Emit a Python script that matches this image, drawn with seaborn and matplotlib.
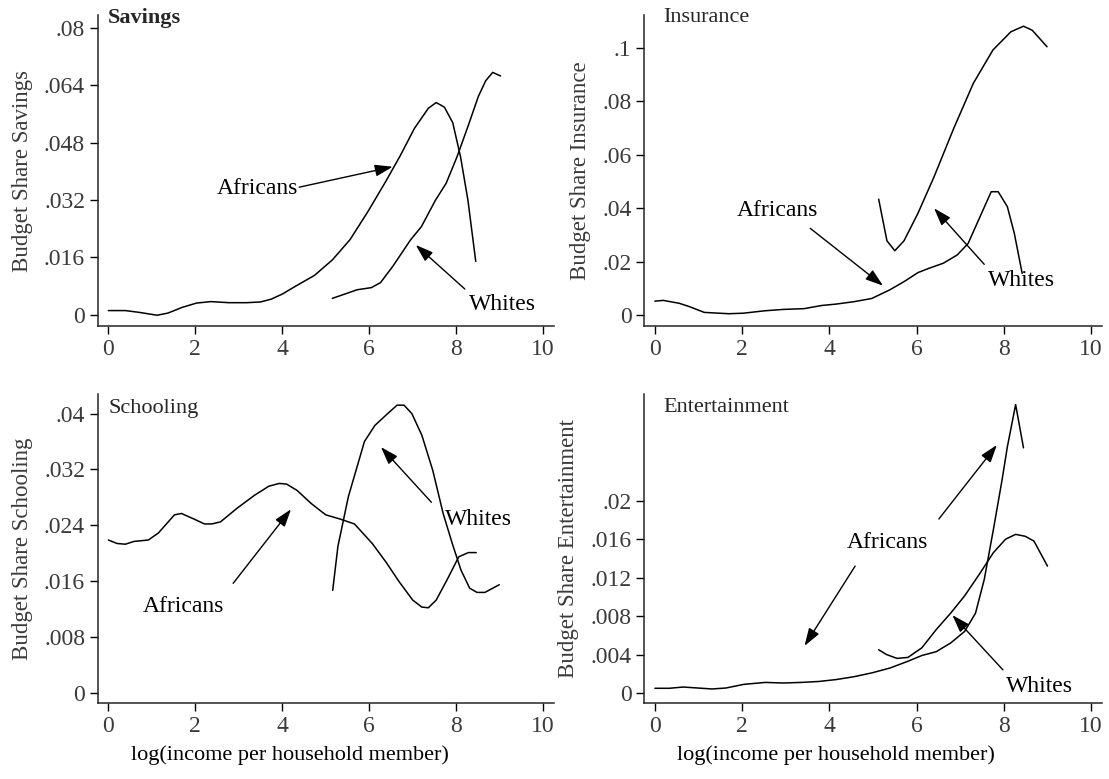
import numpy as np
import pandas as pd
import matplotlib
matplotlib.use("Agg")
import matplotlib.pyplot as plt
import seaborn as sns

# ---------------- data ----------------
sav_afr_x = [0, 0.39, 0.71, 1.12, 1.37, 1.70, 2.03, 2.36, 2.77, 3.18, 3.50, 3.75, 4.0, 4.32, 4.74, 5.15, 5.56, 5.97, 6.38, 6.71, 7.04, 7.36, 7.54, 7.73, 7.92, 8.10, 8.27, 8.45]
sav_afr_y = [0.0012, 0.0012, 0.0007, -0.0001, 0.0005, 0.0021, 0.0033, 0.0037, 0.0034, 0.0034, 0.0036, 0.0044, 0.0058, 0.0081, 0.0110, 0.0153, 0.0210, 0.0288, 0.0372, 0.0443, 0.0520, 0.0576, 0.0592, 0.0579, 0.0536, 0.0441, 0.0320, 0.0149]
sav_wht_x = [5.15, 5.39, 5.72, 6.05, 6.26, 6.54, 6.95, 7.20, 7.52, 7.77, 8.02, 8.27, 8.51, 8.68, 8.84, 9.02]
sav_wht_y = [0.0046, 0.0056, 0.0070, 0.0076, 0.0090, 0.0135, 0.0209, 0.0246, 0.0319, 0.0367, 0.0441, 0.0525, 0.0609, 0.0653, 0.0676, 0.0666]

ins_afr_x = [0, 0.19, 0.56, 0.80, 1.13, 1.46, 1.70, 2.03, 2.52, 2.93, 3.42, 3.83, 4.15, 4.56, 4.97, 5.38, 5.71, 6.03, 6.28, 6.61, 6.93, 7.18, 7.42, 7.71, 7.87, 8.08, 8.24, 8.42]
ins_afr_y = [0.0052, 0.0055, 0.0044, 0.0031, 0.0010, 0.0007, 0.0005, 0.0007, 0.0016, 0.0021, 0.0024, 0.0036, 0.0041, 0.0050, 0.0062, 0.0094, 0.0125, 0.0159, 0.0175, 0.0194, 0.0225, 0.0268, 0.0356, 0.0462, 0.0462, 0.0406, 0.0306, 0.0156]
ins_wht_x = [5.13, 5.32, 5.50, 5.71, 6.03, 6.40, 6.85, 7.30, 7.75, 8.16, 8.45, 8.65, 8.99]
ins_wht_y = [0.0434, 0.0278, 0.0241, 0.0278, 0.0381, 0.0518, 0.0699, 0.0868, 0.0993, 0.1061, 0.1082, 0.1067, 0.1005]

sch_afr_x = [0, 0.20, 0.39, 0.59, 0.92, 1.15, 1.52, 1.68, 1.97, 2.21, 2.38, 2.58, 2.95, 3.36, 3.69, 3.93, 4.10, 4.34, 4.67, 5.00, 5.33, 5.66, 6.07, 6.39, 6.68, 7.00, 7.21, 7.36, 7.54, 7.79, 8.06, 8.28, 8.46]
sch_afr_y = [0.0219, 0.0214, 0.0213, 0.0217, 0.0219, 0.0229, 0.0255, 0.0257, 0.0249, 0.0242, 0.0242, 0.0245, 0.0264, 0.0283, 0.0296, 0.0300, 0.0299, 0.0290, 0.0271, 0.0255, 0.0249, 0.0242, 0.0214, 0.0187, 0.0160, 0.0133, 0.0123, 0.0122, 0.0133, 0.0162, 0.0195, 0.0201, 0.0201]
sch_wht_x = [5.16, 5.28, 5.52, 5.89, 6.13, 6.39, 6.64, 6.80, 6.98, 7.21, 7.46, 7.70, 7.91, 8.11, 8.31, 8.48, 8.66, 8.99]
sch_wht_y = [0.0147, 0.0210, 0.0281, 0.0360, 0.0383, 0.0398, 0.0412, 0.0412, 0.0400, 0.0369, 0.0319, 0.0257, 0.0214, 0.0176, 0.0150, 0.0144, 0.0144, 0.0155]

ent_afr_x = [0, 0.33, 0.65, 0.98, 1.31, 1.63, 2.04, 2.53, 2.94, 3.35, 3.76, 4.16, 4.57, 4.98, 5.39, 5.80, 6.12, 6.45, 6.78, 7.10, 7.35, 7.55, 7.76, 7.96, 8.08, 8.27, 8.45]
ent_afr_y = [0.00049, 0.00049, 0.00062, 0.00052, 0.00042, 0.00052, 0.0009, 0.0011, 0.00104, 0.0011, 0.0012, 0.0014, 0.0017, 0.0021, 0.0026, 0.0033, 0.0039, 0.0043, 0.0052, 0.0064, 0.0083, 0.0118, 0.0170, 0.0222, 0.0256, 0.0300, 0.0255]
ent_wht_x = [5.13, 5.31, 5.55, 5.80, 6.12, 6.45, 6.78, 7.10, 7.43, 7.76, 8.04, 8.27, 8.49, 8.69, 9.00]
ent_wht_y = [0.0045, 0.0040, 0.0036, 0.0037, 0.0047, 0.0066, 0.0083, 0.0101, 0.0123, 0.0146, 0.0160, 0.0165, 0.0163, 0.0158, 0.0132]

panel_titles = ["Savings", "Insurance", "Schooling", "Entertainment"]
y_labels = ["Budget Share Savings", "Budget Share Insurance",
            "Budget Share Schooling", "Budget Share Entertainment"]
x_label = "log(income per household member)"
x_ticks = [0, 2, 4, 6, 8, 10]
sav_yticks = [0, 0.016, 0.032, 0.048, 0.064, 0.08]
sav_ylabels = ["0", ".016", ".032", ".048", ".064", ".08"]
ins_yticks = [0, 0.02, 0.04, 0.06, 0.08, 0.1]
ins_ylabels = ["0", ".02", ".04", ".06", ".08", ".1"]
sch_yticks = [0, 0.008, 0.016, 0.024, 0.032, 0.04]
sch_ylabels = ["0", ".008", ".016", ".024", ".032", ".04"]
ent_yticks = [0, 0.004, 0.008, 0.012, 0.016, 0.02]
ent_ylabels = ["0", ".004", ".008", ".012", ".016", ".02"]

# annotations: (label, text_x, text_y, [(tail_x, tail_y, head_x, head_y), ...])
sav_notes = [("Africans", 3.44, 0.0353, [(4.39, 0.0356, 6.54, 0.0413)]),
             ("Whites", 9.07, 0.0028, [(8.20, 0.0072, 7.07, 0.0195)])]
ins_notes = [("Africans", 2.80, 0.0391, [(3.56, 0.0325, 5.23, 0.0110)]),
             ("Whites", 8.41, 0.0131, [(7.55, 0.0190, 6.40, 0.0400)])]
sch_notes = [("Africans", 1.72, 0.0124, [(2.87, 0.0157, 4.20, 0.0263)]),
             ("Whites", 8.52, 0.0248, [(7.43, 0.0273, 6.27, 0.0352)])]
ent_notes = [("Africans", 5.32, 0.0157, [(4.59, 0.0132, 3.43, 0.0049), (6.51, 0.0181, 7.84, 0.0258)]),
             ("Whites", 8.82, 0.0007, [(7.98, 0.0024, 6.82, 0.0081)])]

# ---------------- styling ----------------
sns.set_theme(style="ticks")
plt.rcParams["font.family"] = ["Liberation Serif", "DejaVu Serif"]
plt.rcParams["axes.linewidth"] = 1.1

panels = [
    (sav_afr_x, sav_afr_y, sav_wht_x, sav_wht_y, sav_yticks, sav_ylabels, (-0.0031, 0.0836), sav_notes, True),
    (ins_afr_x, ins_afr_y, ins_wht_x, ins_wht_y, ins_yticks, ins_ylabels, (-0.0041, 0.1124), ins_notes, False),
    (sch_afr_x, sch_afr_y, sch_wht_x, sch_wht_y, sch_yticks, sch_ylabels, (-0.00143, 0.0428), sch_notes, False),
    (ent_afr_x, ent_afr_y, ent_wht_x, ent_wht_y, ent_yticks, ent_ylabels, (-0.00104, 0.0311), ent_notes, False),
]

W, H = 1109, 779
fig = plt.figure(figsize=(W / 100, H / 100), dpi=100)
boxes = [(97.5, 15, 554, 326), (644, 15, 1102, 326),
         (97.5, 394, 554, 703), (644, 394, 1102, 703)]
# title anchor (left x, centre y) in figure pixels
title_pos = [(108, 18), (663, 18), (108, 408), (663, 408)]
xlabel_center = [290, 836]

tick_color = "#3a3a3a"
for i, (box, p) in enumerate(zip(boxes, panels)):
    l, t, r, b = box
    ax = fig.add_axes([l / W, 1 - b / H, (r - l) / W, (b - t) / H])
    ax_x, ax_y, wx, wy, yt, yl, ylim, notes, bold = p
    df = pd.concat([
        pd.DataFrame({"x": ax_x, "y": ax_y, "group": "Africans"}),
        pd.DataFrame({"x": wx, "y": wy, "group": "Whites"}),
    ])
    sns.lineplot(data=df, x="x", y="y", units="group", estimator=None,
                 color="black", linewidth=1.1, ax=ax, sort=False, legend=False)
    ax.set_xlim(-0.25, 10.25)
    ax.set_ylim(*ylim)
    ax.set_xticks(x_ticks)
    ax.set_xticklabels([str(v) for v in x_ticks])
    ax.set_yticks(yt)
    ax.set_yticklabels(yl)
    ax.tick_params(axis="both", direction="out", length=6, width=1.0,
                   labelsize=17, labelcolor=tick_color, color="black", pad=3)
    sns.despine(ax=ax)
    ax.set_ylabel(y_labels[i], fontsize=16.5, color=tick_color, labelpad=8)
    if i >= 2:
        ax.set_xlabel(x_label, fontsize=16, color="black")
        ax.xaxis.set_label_coords((xlabel_center[i - 2] - l) / (r - l), -0.138)
    else:
        ax.set_xlabel("")
    tx, ty = title_pos[i]
    ax.text((tx - l) / (r - l), (b - ty) / (b - t), panel_titles[i],
            transform=ax.transAxes, fontsize=16,
            fontweight="bold" if bold else "normal",
            va="center", ha="left", clip_on=False)
    for label, nx, ny, arrows in notes:
        ax.text(nx, ny, label, fontsize=17, ha="center", va="center", color="black")
        for (x0, y0, x1, y1) in arrows:
            ax.annotate("", xy=(x1, y1), xytext=(x0, y0),
                        arrowprops=dict(arrowstyle="-|>,head_length=0.9,head_width=0.3",
                                        color="black", lw=1.0, shrinkA=0, shrinkB=0))

fig.savefig("out.png", dpi=100)
